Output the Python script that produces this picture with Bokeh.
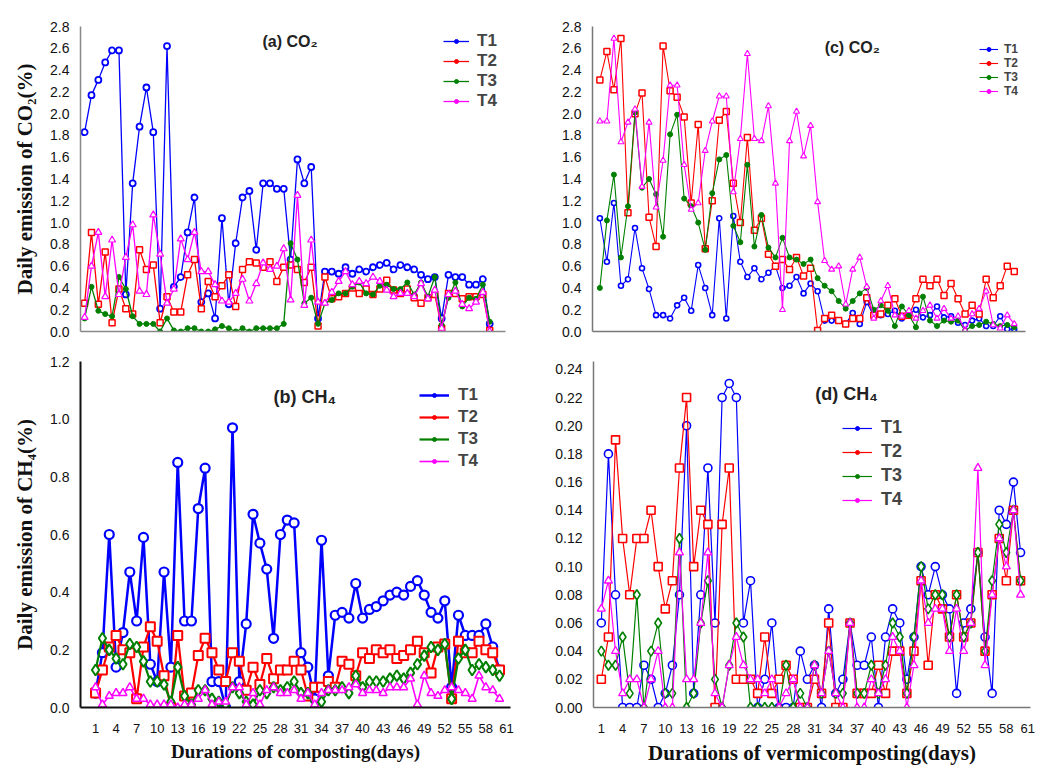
from bokeh.plotting import figure
from bokeh.models import FixedTicker, NumeralTickFormatter, Legend, LegendItem, Label, Range1d
from bokeh.layouts import column, row
from bokeh.embed import file_html
from bokeh.resources import INLINE

days = list(range(1, 61))
series_names = ["T1", "T2", "T3", "T4"]
x_ticks = list(range(1, 62, 3))
co2_ticks = [0.0, 0.2, 0.4, 0.6, 0.8, 1.0, 1.2, 1.4, 1.6, 1.8, 2.0, 2.2, 2.4, 2.6, 2.8]
ch4b_ticks = [0.0, 0.2, 0.4, 0.6, 0.8, 1.0, 1.2]
ch4d_ticks = [0.0, 0.02, 0.04, 0.06, 0.08, 0.10, 0.12, 0.14, 0.16, 0.18, 0.20, 0.22, 0.24]

# (a) CO2, composting
a_T1 = [1.83,2.17,2.31,2.47,2.58,2.58,0.34,1.36,1.88,2.24,1.83,0.21,2.62,0.41,0.50,0.91,1.23,0.27,0.35,0.12,
        1.04,0.25,0.81,1.23,1.29,0.75,1.36,1.36,1.31,1.31,0.66,1.58,1.36,1.51,0.12,0.55,0.55,0.53,0.59,0.53,
        0.57,0.55,0.59,0.61,0.63,0.57,0.61,0.59,0.57,0.52,0.48,0.50,0.12,0.52,0.50,0.50,0.43,0.43,0.48,0.07]
a_T2 = [0.26,0.91,0.25,0.73,0.08,0.39,0.21,0.16,0.75,0.57,0.61,0.08,0.32,0.18,0.18,0.52,0.66,0.21,0.46,0.32,
        0.42,0.52,0.23,0.57,0.64,0.63,0.59,0.64,0.46,0.59,0.61,0.57,0.45,0.59,0.05,0.50,0.30,0.32,0.35,0.40,
        0.35,0.39,0.34,0.39,0.47,0.38,0.35,0.39,0.31,0.26,0.31,0.34,0.03,0.35,0.35,0.30,0.32,0.32,0.34,0.01]
a_T3 = [0.12,0.41,0.19,0.16,0.14,0.50,0.39,0.14,0.07,0.07,0.07,0.00,0.12,0.01,0.00,0.03,0.03,0.00,0.00,0.02,
        0.05,0.03,0.00,0.03,0.00,0.03,0.03,0.03,0.03,0.07,0.81,0.66,0.26,0.31,0.07,0.26,0.29,0.35,0.35,0.41,
        0.45,0.35,0.34,0.42,0.43,0.39,0.39,0.45,0.34,0.45,0.32,0.50,0.06,0.31,0.45,0.23,0.31,0.30,0.43,0.09]
a_T4 = [0.13,0.60,0.91,0.32,0.84,0.34,0.68,0.98,0.37,0.34,1.07,0.71,0.26,0.39,0.85,0.66,0.91,0.55,0.55,0.43,
        0.28,0.27,0.35,0.48,0.28,0.44,0.63,0.57,0.60,0.76,0.29,1.25,0.24,0.84,0.27,0.26,0.36,0.46,0.55,0.43,
        0.46,0.44,0.50,0.46,0.38,0.32,0.35,0.35,0.32,0.44,0.30,0.38,0.03,0.34,0.37,0.25,0.21,0.27,0.36,0.00]

# (b) CH4, composting
b_T1 = [0.05,0.19,0.60,0.14,0.26,0.47,0.30,0.59,0.15,0.09,0.47,0.14,0.85,0.30,0.30,0.69,0.83,0.09,0.09,0.00,
        0.97,0.09,0.29,0.67,0.57,0.48,0.24,0.60,0.65,0.64,0.19,0.14,0.03,0.58,0.11,0.32,0.33,0.31,0.43,0.31,
        0.34,0.35,0.37,0.39,0.40,0.39,0.42,0.44,0.39,0.33,0.31,0.37,0.07,0.32,0.25,0.25,0.25,0.29,0.21,0.13]
b_T2 = [0.05,0.13,0.21,0.25,0.20,0.19,0.03,0.21,0.28,0.23,0.11,0.00,0.25,0.04,0.05,0.18,0.24,0.19,0.13,0.09,
        0.19,0.16,0.06,0.14,0.08,0.17,0.10,0.13,0.13,0.16,0.13,0.04,0.07,0.07,0.09,0.07,0.16,0.15,0.11,0.19,
        0.17,0.20,0.19,0.20,0.17,0.18,0.20,0.23,0.19,0.12,0.21,0.22,0.03,0.23,0.19,0.19,0.23,0.20,0.19,0.13]
b_T3 = [0.13,0.24,0.20,0.17,0.15,0.22,0.21,0.16,0.09,0.09,0.08,0.02,0.14,0.04,0.01,0.06,0.06,0.03,0.02,0.01,
        0.07,0.05,0.02,0.01,0.06,0.05,0.07,0.06,0.07,0.09,0.05,0.05,0.00,0.02,0.06,0.06,0.07,0.05,0.11,0.07,
        0.09,0.09,0.09,0.10,0.11,0.10,0.12,0.15,0.18,0.21,0.20,0.22,0.03,0.17,0.20,0.13,0.15,0.14,0.13,0.11]
b_T4 = [0.07,0.01,0.04,0.05,0.05,0.07,0.03,0.03,0.01,0.01,0.01,0.01,0.00,0.01,0.01,0.03,0.06,0.01,0.02,0.02,
        0.07,0.07,0.01,0.05,0.01,0.06,0.07,0.05,0.05,0.06,0.03,0.05,0.01,0.05,0.06,0.06,0.06,0.07,0.08,0.05,
        0.06,0.06,0.05,0.07,0.07,0.07,0.10,0.01,0.11,0.05,0.04,0.06,0.07,0.06,0.05,0.03,0.11,0.07,0.06,0.03]

# (c) CO2, vermicomposting
c_T1 = [1.04,0.64,1.18,0.42,0.48,0.95,0.58,0.39,0.15,0.15,0.12,0.24,0.31,0.19,0.61,0.40,0.15,1.04,0.12,1.06,
        0.64,0.50,0.58,0.48,0.54,0.60,0.40,0.42,0.50,0.35,0.44,0.37,0.10,0.10,0.10,0.07,0.17,0.07,0.27,0.14,
        0.15,0.16,0.19,0.12,0.16,0.20,0.13,0.15,0.23,0.13,0.14,0.08,0.06,0.10,0.12,0.05,0.05,0.14,0.02,0.02]
c_T2 = [2.31,2.57,2.22,2.69,1.09,2.00,2.19,1.05,0.78,2.62,2.21,2.15,1.97,1.18,1.90,0.76,1.20,1.94,2.02,1.36,
        1.00,1.78,0.93,1.04,0.71,0.60,0.66,0.57,0.68,0.51,0.58,0.01,0.12,0.15,0.10,0.07,0.12,0.12,0.31,0.15,
        0.16,0.24,0.30,0.14,0.15,0.30,0.48,0.42,0.48,0.33,0.44,0.30,0.16,0.24,0.16,0.48,0.31,0.42,0.60,0.55]
c_T3 = [0.40,1.02,1.44,0.68,1.15,2.01,1.32,1.40,1.26,0.87,1.81,1.99,1.22,1.15,1.00,0.75,1.27,1.58,1.62,0.97,
        0.82,1.53,0.78,1.07,0.77,0.68,0.86,0.68,0.66,0.62,0.66,0.49,0.42,0.37,0.28,0.21,0.28,0.35,0.40,0.20,
        0.24,0.19,0.05,0.23,0.15,0.04,0.32,0.10,0.05,0.10,0.09,0.10,0.01,0.05,0.06,0.09,0.07,0.05,0.06,0.04]
c_T4 = [1.93,1.93,2.69,1.74,1.92,2.04,1.33,1.92,1.14,1.57,2.26,2.26,1.53,1.12,1.18,1.66,1.93,2.16,2.16,1.28,
        1.77,2.55,1.77,1.75,2.07,1.36,0.20,1.75,2.02,1.61,1.89,1.19,0.65,0.57,0.60,0.25,0.57,0.68,0.41,0.12,
        0.28,0.42,0.15,0.14,0.19,0.12,0.19,0.24,0.12,0.21,0.12,0.14,0.01,0.16,0.21,0.37,0.06,0.03,0.15,0.07]

# (d) CH4, vermicomposting
d_T1 = [0.06,0.18,0.08,0.00,0.00,0.00,0.03,0.02,0.00,0.01,0.03,0.08,0.20,0.01,0.08,0.17,0.06,0.22,0.23,0.22,
        0.06,0.09,0.00,0.02,0.06,0.00,0.00,0.00,0.04,0.02,0.03,0.00,0.07,0.01,0.02,0.06,0.03,0.03,0.05,0.00,
        0.05,0.07,0.06,0.02,0.05,0.10,0.08,0.10,0.08,0.07,0.01,0.06,0.07,0.11,0.05,0.01,0.14,0.13,0.16,0.11]
d_T2 = [0.02,0.05,0.19,0.12,0.08,0.12,0.12,0.14,0.10,0.07,0.09,0.17,0.22,0.10,0.14,0.13,0.00,0.13,0.17,0.02,
        0.02,0.02,0.01,0.05,0.01,0.02,0.03,0.02,0.00,0.00,0.02,0.01,0.06,0.00,0.00,0.06,0.01,0.01,0.01,0.03,
        0.01,0.04,0.04,0.01,0.04,0.09,0.03,0.08,0.07,0.05,0.08,0.05,0.06,0.11,0.04,0.08,0.12,0.09,0.14,0.09]
d_T3 = [0.04,0.03,0.03,0.05,0.01,0.08,0.00,0.04,0.06,0.01,0.01,0.12,0.00,0.01,0.06,0.09,0.02,0.00,0.03,0.06,
        0.05,0.00,0.00,0.00,0.00,0.00,0.03,0.00,0.01,0.00,0.03,0.01,0.04,0.01,0.01,0.06,0.01,0.01,0.03,0.01,
        0.03,0.06,0.05,0.01,0.05,0.10,0.07,0.08,0.08,0.05,0.08,0.05,0.06,0.11,0.04,0.09,0.13,0.11,0.14,0.09]
d_T4 = [0.07,0.09,0.04,0.01,0.02,0.02,0.00,0.02,0.04,0.00,0.00,0.11,0.02,0.02,0.06,0.11,0.01,0.00,0.03,0.05,
        0.03,0.02,0.02,0.01,0.02,0.00,0.01,0.02,0.00,0.00,0.03,0.01,0.04,0.01,0.00,0.06,0.00,0.00,0.02,0.01,
        0.02,0.05,0.04,0.00,0.03,0.09,0.06,0.07,0.07,0.04,0.07,0.04,0.06,0.17,0.03,0.08,0.12,0.10,0.14,0.08]

colors = ["#0000ff", "#ff0000", "#008000", "#ff00ff"]
SANS = "Liberation Sans"
SERIF = "Liberation Serif"
OFF = 8  # page offset
BOT_H = 422


def base_fig(w, h, xr, yr, bl, br, bt, bb, axis_color, axis_w):
    p = figure(width=w, height=h, x_range=Range1d(*xr), y_range=Range1d(*yr),
               output_backend="svg", toolbar_location=None,
               min_border_left=bl, min_border_right=br, min_border_top=bt, min_border_bottom=bb)
    p.xgrid.visible = False
    p.ygrid.visible = False
    p.outline_line_color = None
    for ax in (p.xaxis[0], p.yaxis[0]):
        ax.axis_line_color = axis_color
        ax.axis_line_width = axis_w
        ax.major_tick_line_color = None
        ax.minor_tick_line_color = None
        ax.major_label_text_font = SANS
        ax.major_label_text_color = "#111111"
    p.yaxis[0].major_label_text_font_size = "14px"
    p.yaxis[0].major_label_standoff = 5
    return p


def add_series(p, ys_list, specs, line_widths):
    items = []
    for name, ys, col, spec, lw in zip(series_names, ys_list, colors, specs, line_widths):
        r_line = p.line(days, ys, line_color=col, line_width=lw)
        marker, size, mlw, filled = spec
        p.scatter(days, ys, marker=marker, size=size, line_color=col, line_width=mlw,
                  fill_color=col if filled else "white")
        r_dot = p.scatter([-1000], [-1000], marker="circle", line_color=col, fill_color=col, line_width=1)
        items.append(LegendItem(label=name, renderers=[r_line, r_dot]))
    return items


def add_legend(p, items, loc, font_size, gw, gh, lh, spacing, standoff):
    lg = Legend(items=items, location=loc, label_text_font=SANS, label_text_font_style="bold",
                label_text_font_size=font_size, glyph_width=gw, glyph_height=gh,
                label_height=lh, spacing=spacing, padding=0, margin=0, label_standoff=standoff,
                border_line_color=None, background_fill_alpha=0)
    p.add_layout(lg)


def x_title(ax, text, size, standoff):
    ax.axis_label = text
    ax.axis_label_text_font = SERIF
    ax.axis_label_text_font_style = "bold"
    ax.axis_label_text_font_size = size
    ax.axis_label_standoff = standoff
    ax.axis_label_text_color = "#111111"


def y_title(ax, text):
    ax.axis_label = text
    ax.axis_label_text_font = SERIF
    ax.axis_label_text_font_style = "bold"
    ax.axis_label_text_font_size = "21px"
    ax.axis_label_standoff = 10
    ax.axis_label_text_color = "#111111"


# ---------- panel (a)
pa = base_fig(540 + OFF, 337 + OFF, (0.4, 62.3), (0, 2.8), 72 + OFF, 43, 18 + OFF, 14, "#888888", 1.5)
pa.yaxis[0].ticker = FixedTicker(ticks=co2_ticks)
pa.yaxis[0].formatter = NumeralTickFormatter(format="0.0")
pa.xaxis[0].ticker = FixedTicker(ticks=[])
y_title(pa.yaxis[0], "Daily emission of CO\u2082(%)")
items = add_series(pa, [a_T1, a_T2, a_T3, a_T4],
                   [("circle", 6, 1.8, False), ("square", 6, 1.5, False),
                    ("circle", 5, 1, True), ("triangle", 7, 1.2, False)],
                   [1.3, 1.3, 1.3, 1.3])
add_legend(pa, items, (363, 220), "17px", 26, 10, 20, 0, 8)
pa.add_layout(Label(x=26.9, y=2.66, text="(a) CO\u2082", text_font=SANS, text_font_style="bold",
                    text_font_size="16px", text_baseline="middle", text_color="#222222"))

# ---------- panel (c)
pc = base_fig(493, 337 + OFF, (-0.05, 61.6), (0, 2.8), 44, 16, 18 + OFF, 14, "#777777", 1.5)
pc.yaxis[0].ticker = FixedTicker(ticks=co2_ticks)
pc.yaxis[0].formatter = NumeralTickFormatter(format="0.0")
pc.xaxis[0].ticker = FixedTicker(ticks=[])
items = add_series(pc, [c_T1, c_T2, c_T3, c_T4],
                   [("circle", 5, 1.6, False), ("square", 6, 1.5, False),
                    ("circle", 5, 1, True), ("triangle", 6, 1.1, False)],
                   [1.1, 1.1, 1.1, 1.1])
add_legend(pc, items, (387, 233), "12px", 19, 10, 14, 0, 6)
pc.add_layout(Label(x=33.0, y=2.61, text="(c) CO\u2082", text_font=SANS, text_font_style="bold",
                    text_font_size="16px", text_baseline="middle", text_color="#222222"))

# ---------- panel (b)
pb = base_fig(540 + OFF, BOT_H, (-1.2, 61.6), (0, 1.2), 72 + OFF, 38, 16, 57, "#111111", 2)
pb.yaxis[0].ticker = FixedTicker(ticks=ch4b_ticks)
pb.yaxis[0].formatter = NumeralTickFormatter(format="0.0")
pb.xaxis[0].ticker = FixedTicker(ticks=x_ticks)
pb.xaxis[0].major_label_text_font_size = "13px"
pb.xaxis[0].major_label_standoff = 10
y_title(pb.yaxis[0], "Daily emission of CH\u2084(%)")
x_title(pb.xaxis[0], "Durations of composting(days)", "19px", 5)
items = add_series(pb, [b_T1, b_T2, b_T3, b_T4],
                   [("circle", 9, 2.2, False), ("square", 9, 2, False),
                    ("diamond", 11, 2, False), ("triangle", 8, 1.5, False)],
                   [2.5, 2.2, 2.2, 1.6])
add_legend(pb, items, (339, 236), "17px", 30, 10, 20, 2, 9)
pb.add_layout(Label(x=27.0, y=1.077, text="(b) CH\u2084", text_font=SANS, text_font_style="bold",
                    text_font_size="18px", text_baseline="middle", text_color="#222222"))

# ---------- panel (d)  (frame shares top/bottom with (b); top tick 0.24 sits 8px below frame top)
pd_ = base_fig(493, BOT_H, (-0.1, 61.4), (0, 0.2456), 45, 11, 16, 57, "#777777", 1.5)
pd_.yaxis[0].ticker = FixedTicker(ticks=ch4d_ticks)
pd_.yaxis[0].formatter = NumeralTickFormatter(format="0.00")
pd_.xaxis[0].ticker = FixedTicker(ticks=x_ticks)
pd_.xaxis[0].major_label_text_font_size = "13px"
pd_.xaxis[0].major_label_standoff = 10
x_title(pd_.xaxis[0], "Durations of vermicomposting(days)", "21px", 5)
items = add_series(pd_, [d_T1, d_T2, d_T3, d_T4],
                   [("circle", 8, 1.6, False), ("square", 8, 1.6, False),
                    ("diamond", 10, 1.6, False), ("triangle", 8, 1.3, False)],
                   [1.2, 1.2, 1.2, 1.2])
add_legend(pd_, items, (249, 197), "18px", 30, 10, 21, 3, 9)
pd_.add_layout(Label(x=31.1, y=0.2227, text="(d) CH\u2084", text_font=SANS, text_font_style="bold",
                     text_font_size="18px", text_baseline="middle", text_color="#222222"))

layout = column(row(pa, pc), row(pb, pd_))
open("out.html", "w").write(file_html(layout, INLINE))
